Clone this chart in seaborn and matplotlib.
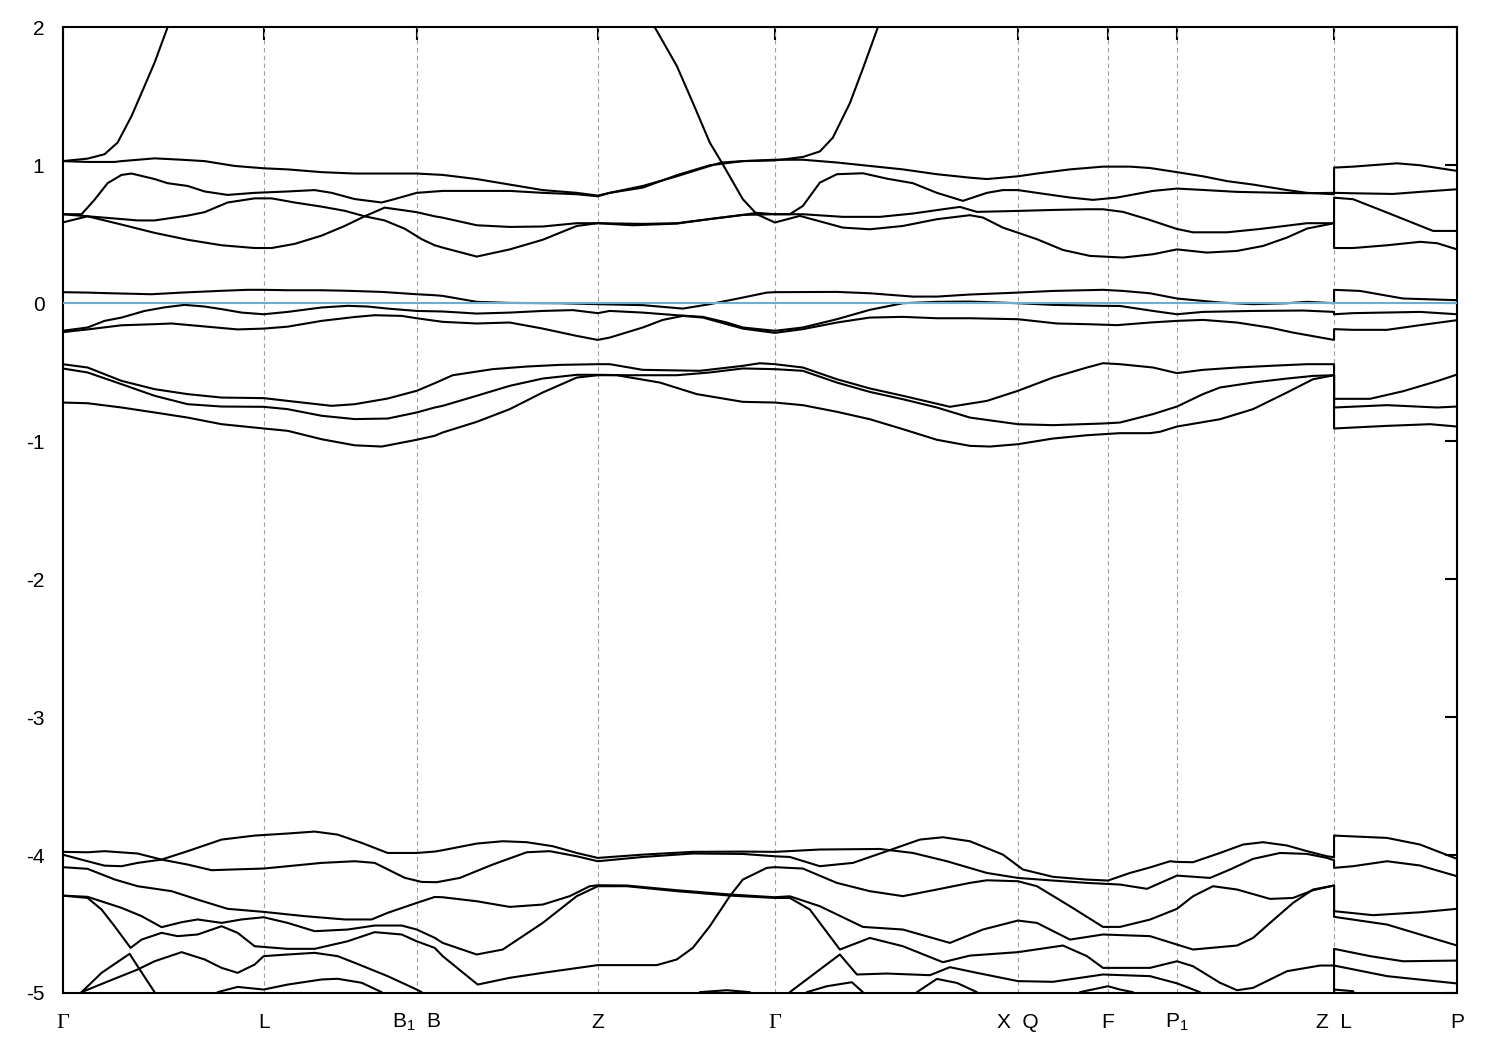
import matplotlib
matplotlib.use("Agg")
import matplotlib.pyplot as plt
import seaborn as sns
import pandas as pd

# high-symmetry points along the k-path (path length units)
kpoints = [0, 201, 354, 535, 712, 955, 1045, 1114, 1271, 1394]
klabels = ["Γ", "L", "B$_1$  B", "Z", "Γ", "X  Q", "F", "P$_1$", "Z  L", "P"]
e_ticks = [-5, -4, -3, -2, -1, 0, 1, 2]
e_fermi = 0.0

# conduction-side bands (eV), (k, E) pairs; a repeated k marks the Z|L jump
band_u1 = [(0, 1.03), (25, 1.024), (52, 1.024), (59, 1.03), (92, 1.05), (119, 1.04), (142, 1.03),
           (172, 0.995), (201, 0.978), (225, 0.97), (259, 0.95), (292, 0.94), (354, 0.94), (380, 0.93),
           (414, 0.90), (447, 0.86), (480, 0.82), (514, 0.80), (535, 0.78), (547, 0.80), (580, 0.85),
           (614, 0.92), (647, 0.995), (659, 1.02), (680, 1.03), (712, 1.04), (740, 1.04), (774, 1.02),
           (807, 0.995), (840, 0.97), (874, 0.935), (907, 0.91), (924, 0.90), (955, 0.92), (974, 0.94),
           (1007, 0.97), (1040, 0.99), (1067, 0.99), (1087, 0.98), (1114, 0.95), (1140, 0.92),
           (1164, 0.885), (1190, 0.86), (1224, 0.82), (1244, 0.80), (1271, 0.79), (1271, 0.983),
           (1290, 0.99), (1334, 1.014), (1357, 1.0), (1394, 0.959)]
band_u2 = [(0, 0.645), (19, 0.645), (32, 0.75), (45, 0.87), (59, 0.93), (69, 0.94), (92, 0.90),
           (105, 0.87), (125, 0.85), (142, 0.81), (165, 0.785), (192, 0.80), (225, 0.81), (252, 0.82),
           (269, 0.80), (292, 0.755), (319, 0.73), (332, 0.755), (354, 0.80), (380, 0.814), (414, 0.814),
           (447, 0.814), (480, 0.80), (514, 0.79), (535, 0.775), (547, 0.80), (580, 0.838), (614, 0.928),
           (647, 1.0), (680, 1.03), (712, 1.035), (740, 1.06), (757, 1.10), (770, 1.2), (787, 1.45),
           (800, 1.70), (815, 2.0), (837, 2.5), (937, 3.5), (1394, 4.0)]
band_u3 = [(0, 1.03), (25, 1.048), (42, 1.08), (55, 1.164), (69, 1.357), (82, 1.575), (92, 1.744),
           (105, 2.0), (137, 2.6), (337, 3.5), (535, 3.5), (567, 2.6), (592, 2.0), (614, 1.72),
           (630, 1.454), (647, 1.164), (659, 1.019), (680, 0.754), (694, 0.645), (712, 0.585),
           (737, 0.633), (780, 0.548), (807, 0.536), (840, 0.56), (874, 0.609), (907, 0.638),
           (920, 0.621), (940, 0.548), (974, 0.464), (1000, 0.386), (1027, 0.343), (1060, 0.331),
           (1090, 0.355), (1114, 0.39), (1144, 0.367), (1174, 0.379), (1200, 0.415), (1224, 0.476),
           (1244, 0.541), (1271, 0.58), (1271, 0.40), (1290, 0.40), (1324, 0.42), (1357, 0.445),
           (1374, 0.435), (1394, 0.39)]
band_u4 = [(0, 0.645), (25, 0.63), (59, 0.61), (75, 0.60), (92, 0.60), (125, 0.635), (142, 0.66),
           (165, 0.73), (192, 0.76), (209, 0.76), (232, 0.73), (259, 0.70), (282, 0.67), (302, 0.63),
           (322, 0.60), (342, 0.54), (359, 0.464), (372, 0.42), (380, 0.403), (414, 0.338), (447, 0.39),
           (480, 0.46), (514, 0.56), (535, 0.58), (580, 0.575), (614, 0.58), (647, 0.61), (680, 0.64),
           (712, 0.645), (727, 0.645), (740, 0.705), (757, 0.874), (774, 0.935), (800, 0.942),
           (824, 0.903), (850, 0.87), (874, 0.80), (900, 0.742), (924, 0.80), (940, 0.82), (955, 0.82),
           (974, 0.80), (1007, 0.766), (1030, 0.749), (1054, 0.766), (1090, 0.814), (1114, 0.831),
           (1140, 0.821), (1174, 0.807), (1207, 0.802), (1240, 0.797), (1271, 0.80), (1271, 0.80),
           (1290, 0.797), (1330, 0.792), (1357, 0.807), (1394, 0.826)]
band_u5 = [(0, 0.585), (25, 0.63), (59, 0.57), (92, 0.51), (125, 0.46), (159, 0.42), (192, 0.40),
           (209, 0.40), (232, 0.43), (259, 0.49), (282, 0.56), (302, 0.63), (322, 0.693), (354, 0.66),
           (372, 0.63), (380, 0.62), (414, 0.565), (447, 0.553), (480, 0.556), (514, 0.58), (535, 0.58),
           (570, 0.565), (614, 0.577), (647, 0.61), (680, 0.64), (694, 0.655), (712, 0.645),
           (740, 0.645), (780, 0.626), (817, 0.626), (850, 0.65), (880, 0.681), (897, 0.698),
           (914, 0.662), (955, 0.669), (990, 0.676), (1024, 0.681), (1040, 0.681), (1060, 0.662),
           (1084, 0.61), (1114, 0.538), (1130, 0.514), (1164, 0.514), (1197, 0.538), (1244, 0.58),
           (1271, 0.58), (1271, 0.765), (1290, 0.754), (1324, 0.657), (1370, 0.524), (1394, 0.524)]

# bands around the Fermi level
band_z1 = [(0, 0.08), (25, 0.077), (49, 0.072), (89, 0.065), (119, 0.077), (159, 0.09), (185, 0.097),
           (201, 0.097), (225, 0.094), (259, 0.094), (285, 0.09), (319, 0.082), (354, 0.065),
           (372, 0.058), (380, 0.053), (414, 0.01), (447, 0.002), (497, 0.0), (535, -0.007),
           (580, -0.014), (620, -0.039), (647, -0.007), (680, 0.041), (704, 0.077), (712, 0.08),
           (774, 0.082), (807, 0.072), (850, 0.048), (874, 0.048), (907, 0.063), (955, 0.077),
           (990, 0.089), (1040, 0.097), (1060, 0.089), (1087, 0.072), (1114, 0.034), (1157, 0.005),
           (1190, -0.007), (1224, 0.0), (1244, 0.01), (1271, 0.0), (1271, 0.097), (1297, 0.089),
           (1340, 0.034), (1394, 0.022)]
band_z2 = [(0, -0.20), (25, -0.176), (42, -0.128), (59, -0.104), (82, -0.056), (102, -0.03),
           (122, -0.012), (142, -0.024), (159, -0.043), (179, -0.068), (201, -0.08), (225, -0.063),
           (259, -0.031), (285, -0.019), (305, -0.024), (325, -0.039), (354, -0.056), (380, -0.06),
           (414, -0.075), (447, -0.068), (480, -0.056), (510, -0.05), (535, -0.072), (547, -0.056),
           (580, -0.068), (614, -0.087), (640, -0.099), (664, -0.14), (680, -0.176), (712, -0.20),
           (740, -0.176), (774, -0.116), (807, -0.048), (840, 0.0), (874, 0.01), (907, 0.012),
           (955, 0.0), (990, -0.012), (1040, -0.019), (1057, -0.02), (1090, -0.056), (1114, -0.08),
           (1140, -0.063), (1190, -0.056), (1240, -0.053), (1271, -0.063), (1271, -0.08),
           (1290, -0.072), (1357, -0.063), (1394, -0.08)]
band_z3 = [(0, -0.21), (25, -0.19), (59, -0.16), (92, -0.152), (109, -0.147), (135, -0.164),
           (175, -0.19), (201, -0.184), (225, -0.17), (259, -0.128), (292, -0.10), (312, -0.087),
           (339, -0.092), (354, -0.109), (380, -0.135), (414, -0.147), (447, -0.14), (480, -0.184),
           (514, -0.237), (535, -0.266), (547, -0.249), (580, -0.176), (600, -0.121), (620, -0.092),
           (640, -0.104), (664, -0.152), (680, -0.184), (712, -0.215), (740, -0.188), (774, -0.14),
           (807, -0.104), (840, -0.099), (874, -0.109), (907, -0.109), (955, -0.116), (994, -0.147),
           (1024, -0.152), (1054, -0.159), (1087, -0.14), (1114, -0.128), (1140, -0.121),
           (1174, -0.14), (1207, -0.177), (1230, -0.213), (1271, -0.266), (1271, -0.188),
           (1290, -0.193), (1324, -0.193), (1357, -0.159), (1394, -0.123)]

# upper valence bands
band_m1 = [(0, -0.442), (25, -0.466), (59, -0.563), (92, -0.623), (125, -0.659), (159, -0.684),
           (201, -0.688), (225, -0.708), (269, -0.744), (292, -0.732), (325, -0.691), (354, -0.635),
           (372, -0.58), (390, -0.522), (430, -0.478), (464, -0.459), (497, -0.447), (535, -0.442),
           (547, -0.442), (580, -0.483), (637, -0.49), (680, -0.454), (697, -0.435), (712, -0.442),
           (740, -0.466), (774, -0.551), (807, -0.618), (840, -0.671), (887, -0.751), (924, -0.708),
           (955, -0.635), (990, -0.539), (1024, -0.466), (1040, -0.435), (1057, -0.442),
           (1090, -0.466), (1114, -0.507), (1140, -0.483), (1174, -0.466), (1207, -0.454),
           (1244, -0.442), (1271, -0.442), (1271, -0.693), (1307, -0.693), (1340, -0.638),
           (1374, -0.565), (1394, -0.517)]
band_m2 = [(0, -0.473), (25, -0.502), (59, -0.587), (92, -0.671), (125, -0.732), (159, -0.749),
           (201, -0.751), (225, -0.768), (259, -0.816), (292, -0.84), (325, -0.836), (354, -0.792),
           (372, -0.756), (380, -0.744), (414, -0.671), (447, -0.599), (480, -0.546), (514, -0.519),
           (535, -0.519), (564, -0.522), (614, -0.522), (647, -0.502), (680, -0.473), (712, -0.478),
           (740, -0.49), (774, -0.575), (807, -0.643), (840, -0.696), (874, -0.756), (907, -0.829),
           (955, -0.877), (990, -0.884), (1040, -0.872), (1057, -0.865), (1090, -0.804),
           (1114, -0.749), (1140, -0.659), (1157, -0.611), (1190, -0.575), (1224, -0.546),
           (1250, -0.527), (1271, -0.522), (1271, -0.756), (1324, -0.739), (1374, -0.756),
           (1394, -0.749)]
band_m3 = [(0, -0.72), (25, -0.725), (59, -0.756), (92, -0.792), (125, -0.829), (159, -0.877),
           (201, -0.908), (225, -0.925), (259, -0.986), (292, -1.03), (319, -1.039), (354, -0.99),
           (372, -0.961), (380, -0.937), (414, -0.86), (447, -0.768), (480, -0.647), (514, -0.539),
           (535, -0.522), (554, -0.522), (597, -0.575), (634, -0.659), (680, -0.715), (712, -0.72),
           (740, -0.739), (774, -0.787), (807, -0.841), (840, -0.913), (874, -0.99), (907, -1.034),
           (927, -1.039), (955, -1.022), (990, -0.981), (1024, -0.957), (1057, -0.942),
           (1087, -0.942), (1097, -0.932), (1114, -0.894), (1157, -0.841), (1190, -0.768),
           (1224, -0.647), (1250, -0.551), (1271, -0.522), (1271, -0.908), (1324, -0.889),
           (1367, -0.877), (1394, -0.894)]

# lower valence bands
band_b1 = [(0, -3.977), (25, -3.98), (42, -3.972), (75, -3.989), (99, -4.033), (125, -3.972),
           (159, -3.888), (192, -3.859), (225, -3.844), (252, -3.83), (275, -3.852), (299, -3.912),
           (325, -3.985), (354, -3.985), (372, -3.975), (380, -3.965), (414, -3.917), (440, -3.9),
           (464, -3.907), (490, -3.936), (514, -3.985), (535, -4.021), (580, -3.997), (630, -3.977),
           (680, -3.975), (712, -3.977), (757, -3.96), (817, -3.956), (850, -3.985), (884, -4.045),
           (924, -4.13), (955, -4.166), (990, -4.185), (1024, -4.202), (1057, -4.214), (1084, -4.245),
           (1114, -4.149), (1147, -4.166), (1167, -4.105), (1190, -4.028), (1217, -3.985),
           (1244, -3.992), (1264, -4.021), (1271, -4.038), (1271, -4.093), (1290, -4.081),
           (1324, -4.045), (1357, -4.076), (1394, -4.154)]
band_b2 = [(0, -3.997), (25, -4.045), (42, -4.077), (59, -4.081), (75, -4.057), (99, -4.033),
           (125, -4.069), (149, -4.11), (169, -4.105), (201, -4.098), (225, -4.081), (259, -4.057),
           (292, -4.045), (312, -4.057), (342, -4.165), (359, -4.195), (374, -4.197), (397, -4.166),
           (430, -4.069), (464, -3.98), (487, -3.972), (514, -4.009), (535, -4.045), (580, -4.014),
           (630, -3.989), (680, -3.992), (712, -4.009), (727, -4.014), (757, -4.081), (790, -4.057),
           (824, -3.972), (857, -3.888), (880, -3.871), (907, -3.9), (940, -3.997), (960, -4.105),
           (990, -4.158), (1024, -4.178), (1045, -4.185), (1067, -4.13), (1087, -4.09),
           (1107, -4.045), (1114, -4.05), (1130, -4.052), (1157, -3.985), (1180, -3.924),
           (1200, -3.907), (1224, -3.931), (1244, -3.972), (1264, -4.009), (1271, -4.016),
           (1271, -3.859), (1324, -3.876), (1357, -3.924), (1394, -4.028)]
band_b3 = [(0, -4.088), (25, -4.1), (52, -4.177), (75, -4.226), (109, -4.262), (135, -4.323),
           (165, -4.39), (201, -4.412), (242, -4.443), (282, -4.467), (309, -4.467), (325, -4.419),
           (354, -4.347), (372, -4.304), (380, -4.306), (414, -4.335), (447, -4.376), (480, -4.359),
           (507, -4.298), (527, -4.226), (535, -4.219), (564, -4.221), (614, -4.255), (667, -4.286),
           (712, -4.306), (727, -4.299), (757, -4.371), (800, -4.521), (840, -4.54), (887, -4.637),
           (920, -4.54), (955, -4.475), (974, -4.492), (1007, -4.613), (1040, -4.576), (1087, -4.588),
           (1114, -4.649), (1130, -4.685), (1174, -4.656), (1190, -4.601), (1207, -4.492),
           (1230, -4.347), (1250, -4.25), (1271, -4.221), (1271, -4.448), (1324, -4.504),
           (1357, -4.576), (1394, -4.656)]
band_b4 = [(0, -4.294), (25, -4.303), (59, -4.383), (79, -4.443), (99, -4.523), (119, -4.487),
           (135, -4.467), (159, -4.492), (179, -4.467), (201, -4.451), (225, -4.492), (252, -4.552),
           (285, -4.54), (312, -4.511), (339, -4.511), (354, -4.54), (372, -4.6), (380, -4.637),
           (414, -4.721), (440, -4.685), (480, -4.492), (514, -4.298), (535, -4.226), (564, -4.226),
           (614, -4.262), (667, -4.294), (712, -4.311), (727, -4.311), (747, -4.395), (777, -4.685),
           (807, -4.601), (840, -4.661), (880, -4.777), (907, -4.729), (955, -4.704), (1000, -4.656),
           (1024, -4.733), (1040, -4.818), (1087, -4.818), (1114, -4.77), (1130, -4.806),
           (1157, -4.926), (1174, -4.98), (1190, -4.963), (1224, -4.842), (1257, -4.801),
           (1271, -4.801), (1271, -4.68), (1307, -4.733), (1340, -4.77), (1394, -4.765)]
band_b5 = [(0, -4.294), (25, -4.311), (39, -4.395), (52, -4.516), (68, -4.673), (79, -4.613),
           (99, -4.564), (115, -4.588), (135, -4.576), (159, -4.516), (175, -4.564), (192, -4.661),
           (225, -4.68), (252, -4.68), (285, -4.625), (312, -4.559), (339, -4.576), (354, -4.625),
           (372, -4.673), (380, -4.733), (415, -4.939), (447, -4.89), (480, -4.854), (535, -4.798),
           (594, -4.798), (614, -4.757), (630, -4.673), (647, -4.516), (667, -4.298), (680, -4.178),
           (704, -4.093), (712, -4.088), (740, -4.098), (774, -4.202), (807, -4.262), (840, -4.298),
           (874, -4.25), (907, -4.202), (924, -4.183), (955, -4.19), (974, -4.226), (1007, -4.371),
           (1040, -4.521), (1057, -4.521), (1087, -4.468), (1114, -4.39), (1130, -4.299),
           (1150, -4.226), (1174, -4.25), (1207, -4.318), (1230, -4.311), (1250, -4.255),
           (1271, -4.221), (1271, -4.407), (1310, -4.436), (1357, -4.415), (1394, -4.39)]
band_b6 = [(5, -5.3), (19, -4.994), (39, -4.854), (67, -4.716), (75, -4.806), (92, -4.994),
           (105, -5.3)]
band_b7 = [(5, -5.3), (19, -4.994), (42, -4.926), (75, -4.83), (92, -4.77), (119, -4.704),
           (142, -4.757), (159, -4.818), (175, -4.854), (192, -4.794), (201, -4.733), (225, -4.721),
           (252, -4.709), (275, -4.733), (292, -4.781), (325, -4.878), (354, -4.975), (359, -4.994),
           (380, -5.3)]
band_b8 = [(145, -5.3), (155, -4.994), (175, -4.956), (201, -4.975), (225, -4.939), (259, -4.902),
           (275, -4.897), (299, -4.926), (319, -4.994), (330, -5.3)]
band_b9 = [(630, -5.2), (637, -4.994), (664, -4.98), (687, -4.994), (695, -5.2)]
band_b10 = [(712, -5.3), (727, -4.994), (757, -4.83), (777, -4.721), (794, -4.866), (824, -4.859),
            (867, -4.871), (887, -4.813), (914, -4.854), (955, -4.914), (990, -4.919),
            (1040, -4.866), (1087, -4.878), (1114, -4.93), (1137, -4.994), (1150, -5.3)]
band_b11 = [(735, -5.3), (744, -4.994), (764, -4.951), (789, -4.922), (800, -4.994), (810, -5.3)]
band_b12 = [(845, -5.3), (854, -4.994), (874, -4.898), (894, -4.927), (914, -4.994), (924, -5.3)]
band_b13 = [(1010, -5.3), (1017, -4.994), (1045, -4.951), (1057, -4.975), (1070, -4.994),
            (1080, -5.3)]
band_b14 = [(1250, -5.3), (1271, -5.3), (1271, -4.801), (1324, -4.878), (1394, -4.931)]
band_b15 = [(1250, -5.4), (1271, -5.4), (1271, -4.975), (1290, -4.987), (1310, -5.3)]

bands = [band_u1, band_u2, band_u3, band_u4, band_u5, band_z1, band_z2, band_z3,
         band_m1, band_m2, band_m3, band_b1, band_b2, band_b3, band_b4, band_b5,
         band_b6, band_b7, band_b8, band_b9, band_b10, band_b11, band_b12, band_b13,
         band_b14, band_b15]

rows = []
for i, band in enumerate(bands):
    for order, (k, e) in enumerate(band):
        rows.append({"band": i, "order": order, "k": k, "E": e})
df = pd.DataFrame(rows)

sns.set_style("white")
plt.rcParams["font.family"] = ["Liberation Sans", "DejaVu Sans"]
plt.rcParams["mathtext.fontset"] = "custom"
plt.rcParams["mathtext.rm"] = "Liberation Sans"
plt.rcParams["mathtext.it"] = "Liberation Sans"

fig = plt.figure(figsize=(15, 10.5), dpi=100)
ax = fig.add_axes([0.0417, 0.0543, 0.9297, 0.9197])

# dotted guides at the high-symmetry points
for k in kpoints[1:-1]:
    ax.axvline(k, color="#a0a0a0", lw=0.8, ls=(0, (4, 3)), zorder=1)

sns.lineplot(data=df, x="k", y="E", units="band", estimator=None, sort=False,
             color="black", linewidth=1.5, legend=False, ax=ax, zorder=2)
ax.axhline(e_fermi, color="#56b4e9", lw=1.5, zorder=3)

ax.set_xlim(kpoints[0], kpoints[-1])
ax.set_ylim(-5, 2)
ax.set_xticks(kpoints)
ax.set_xticklabels(klabels, va="baseline")
ax.set_yticks(e_ticks)
ax.set_yticklabels([str(t) for t in e_ticks])
ax.set_xlabel("")
ax.set_ylabel("")

ax.tick_params(axis="both", direction="in", length=9, width=1.5, top=True, right=True,
               labelsize=15, colors="black")
ax.tick_params(axis="x", pad=25)
ax.tick_params(axis="y", pad=13)
for lab in ax.get_xticklabels():
    lab.set_verticalalignment("baseline")
    if lab.get_text() == "Γ":
        lab.set_fontfamily(["Liberation Serif", "DejaVu Serif"])
        lab.set_fontsize(16)

for side in ["left", "right", "top", "bottom"]:
    ax.spines[side].set_visible(True)
    ax.spines[side].set_color("black")
    ax.spines[side].set_linewidth(1.5)

fig.savefig("out.png", dpi=100)
